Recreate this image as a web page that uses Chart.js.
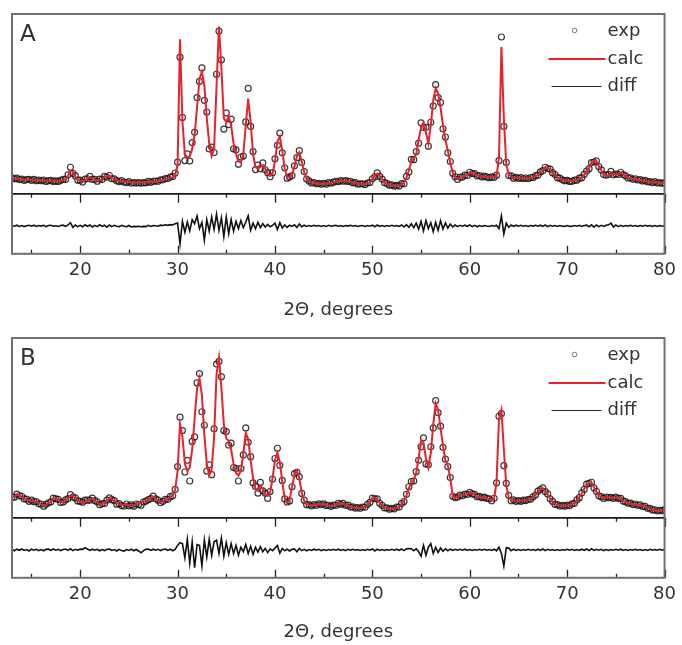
<!DOCTYPE html>
<html>
<head>
<meta charset="utf-8">
<script src="https://cdn.jsdelivr.net/npm/chart.js@4/dist/chart.umd.min.js"></script>
<style>
  body { margin: 0; background: #fff; }
  #wrap { position: relative; width: 682px; height: 645px; }
  canvas { position: absolute; left: 0; }
</style>
</head>
<body>
<div id="wrap">
  <canvas id="panelA" width="682" height="330" style="top:0"></canvas>
  <canvas id="panelB" width="682" height="315" style="top:330px"></canvas>
</div>
<script>
// scan 13.00 .. 80.00 deg, step 0.25 (one line = one degree)
const START = 13;
const STEP = 0.25;

const calcA = [
  8.6, 8.5, 8.3, 8.2,
  8.0, 7.9, 7.8, 7.8,
  7.7, 7.6, 7.6, 7.5,
  7.4, 7.4, 7.3, 7.2,
  7.2, 7.1, 7.1, 7.2,
  7.3, 7.6, 8.3, 10.0,
  13.0, 12.2, 9.6, 8.0,
  7.3, 7.1, 7.6, 8.6,
  9.2, 8.6, 7.7, 7.4,
  7.6, 8.3, 9.3, 10.0,
  9.7, 8.8, 8.0, 7.5,
  7.2, 7.0, 6.8, 6.7,
  6.6, 6.5, 6.5, 6.4,
  6.4, 6.4, 6.5, 6.5,
  6.6, 6.7, 6.8, 7.0,
  7.2, 7.4, 7.6, 7.9,
  8.2, 8.6, 9.2, 10.4,
  16, 86, 40, 22,
  20, 21, 25, 33,
  48, 64, 68, 60,
  42, 28, 21, 25,
  60, 93, 70, 42,
  40, 43, 38, 28,
  22, 18, 17.5, 22,
  38, 53, 40, 22,
  15, 14, 15, 16,
  14, 11, 10, 11.5,
  18, 29, 32, 24,
  14, 9.5, 9, 10.5,
  15, 21, 23, 18,
  12, 8.5, 7, 6.3,
  6.0, 5.8, 5.6, 5.6,
  5.6, 5.7, 5.9, 6.1,
  6.4, 6.7, 7.0, 7.2,
  7.3, 7.2, 7.0, 6.7,
  6.3, 6.0, 5.7, 5.5,
  5.4, 5.5, 5.8, 6.5,
  8.0, 10.0, 11.2, 10.0,
  8.0, 6.5, 5.6, 5.0,
  4.7, 4.5, 4.5, 4.7,
  5.2, 6.2, 9.0, 13.0,
  18, 20, 22, 30,
  37, 39.7, 34, 28,
  38, 52, 58.7, 56,
  48, 38, 30, 24,
  17, 12, 9, 8.4,
  9, 9.5, 10, 10.5,
  11.5, 11.7, 11, 10.5,
  10, 9.7, 9.6, 9.5,
  9.3, 9.2, 9.4, 10,
  20, 81.6, 42, 16,
  11, 9.5, 9, 8.8,
  8.8, 8.7, 8.6, 8.6,
  8.7, 8.9, 9.2, 9.8,
  10.6, 11.8, 13.2, 14.3,
  14.5, 13.5, 12, 10.5,
  9.3, 8.5, 8, 7.6,
  7.3, 7.2, 7.2, 7.4,
  7.8, 8.4, 9.3, 10.6,
  12.3, 14.5, 16.8, 18.4,
  17.8, 15.5, 13, 11,
  10, 10.2, 11, 11.2,
  10.5, 11.2, 11.7, 11,
  9.8, 9, 8.6, 8.3,
  8.2, 8.0, 7.7, 7.4,
  7.2, 6.9, 6.6, 6.5,
  6.6, 6.3, 6.0, 6.0,
  6.1
];

const diffA = [
  0.3, -0.2, 0.4, -0.3,
  0.2, -0.4, 0.1, 0.3,
  -0.2, 0.4, -0.3, 0.2,
  -0.1, 0.3, -0.4, 0.2,
  0.3, -0.2, 0.1, -0.3,
  0.2, 0.4, -0.3, 0.6,
  1.8, -0.8, 0.5, -0.4,
  0.3, -0.5, 0.6, -0.2,
  0.5, -0.6, 0.3, -0.4,
  0.6, -0.3, 0.4, -0.7,
  0.5, -0.4, 0.3, -0.2,
  -0.4, 0.3, -0.2, -0.5,
  0.2, -0.6, -0.3, -0.4,
  -0.2, -0.5, -0.3, -0.4,
  0.3, -0.3, 0.2, 0.1,
  -0.2, 0.4, 0.2, 0.6,
  0.3, 0.7, 0.5, 1.2,
  1.6, -10, 2.5, -3.5,
  2.2, -2.8, 3.5, 1.2,
  5.5, -1.5, 2.0, -8.0,
  3.5, -3.0, 5.0, -2.0,
  6.5, -2.5, 4.5, -6.0,
  5.0, -4.5, 3.5, -3.0,
  2.5, -1.5, 3.0, -1.0,
  2.0, 5.6, -2.5, 1.5,
  -1.5, 2.0, -1.0, 1.2,
  -0.6, 0.8, -0.5, 0.3,
  1.5, -2.0, 1.8, -1.2,
  0.5, -0.8, 0.4, -0.3,
  0.6, -0.9, 1.0, -0.5,
  0.4, -0.3, 0.2, -0.2,
  0.3, -0.2, 0.2, -0.3,
  0.2, -0.3, 0.3, -0.2,
  0.1, 0.3, -0.2, 0.2,
  -0.3, 0.2, -0.1, 0.3,
  -0.2, 0.2, -0.3, 0.1,
  0.2, -0.3, 0.2, -0.2,
  0.4, -0.5, 0.5, -0.3,
  0.2, -0.3, 0.2, -0.2,
  0.3, -0.2, 0.2, -0.3,
  0.5, -0.6, 0.7, -0.8,
  1.2, -1.0, 1.5, -1.8,
  2.5, -2.8, 3.0, -1.5,
  1.8, -3.2, 2.0, -2.5,
  2.8, -1.8, 1.6, -1.2,
  1.0, -0.6, 0.5, -0.4,
  0.3, -0.2, 0.4, -0.3,
  0.5, -0.4, 0.3, -0.5,
  0.2, -0.3, 0.2, -0.1,
  -0.3, 0.2, -0.2, 0.4,
  -1.5, 5.6, -4.5, 1.5,
  -0.8, 0.5, -0.3, 0.4,
  -0.2, 0.3, -0.2, 0.2,
  -0.3, 0.2, -0.1, 0.3,
  -0.2, 0.4, -0.3, 0.5,
  -0.4, 0.3, -0.2, 0.2,
  -0.3, 0.2, -0.2, -0.3,
  0.2, -0.3, -0.2, 0.2,
  -0.2, 0.3, -0.3, 0.2,
  0.4, -0.5, 0.6, -0.7,
  0.5, -0.4, 0.3, -0.3,
  0.4, 0.6, 1.5, -0.6,
  0.5, -0.4, 0.3, -0.3,
  0.2, -0.2, 0.3, -0.2,
  0.2, -0.3, 0.2, -0.2,
  0.3, -0.2, 0.2, -0.3,
  0.2, -0.3, 0.2, -0.2,
  0.1
];

const calcB = [
  11.2, 12.0, 12.8, 12.5,
  11.5, 10.8, 10.2, 9.8,
  9.4, 9.2, 8.8, 8.2,
  7.5, 7.0, 7.2, 8.0,
  9.2, 10.5, 10.8, 10.0,
  9.0, 8.6, 9.5, 11.0,
  12.3, 12.0, 10.8, 9.6,
  8.8, 8.4, 8.6, 9.3,
  10.2, 10.6, 9.8, 8.6,
  7.8, 7.6, 8.4, 9.6,
  10.6, 10.4, 9.4, 8.2,
  7.6, 7.2, 7.3, 7.5,
  7.0, 6.8, 7.0, 7.5,
  8.0, 8.6, 9.2, 9.0,
  9.6, 11.0, 11.7, 10.8,
  9.5, 8.8, 9.0, 9.8,
  10.6, 11.4, 12.8, 15.5,
  26, 52, 45, 30,
  26, 28, 38, 55,
  72, 77.7, 68, 46,
  30, 23.5, 27, 45,
  80, 89, 72, 52,
  44, 43, 38, 30,
  25, 23.5, 26, 36,
  47, 44, 32, 22,
  16, 15, 17.9, 16,
  13, 12.3, 14, 22,
  32, 36.3, 31, 20,
  11, 8.4, 10, 17,
  24, 26.3, 22, 14,
  9.5, 7.8, 7.2, 7.0,
  7.0, 7.2, 7.5, 7.8,
  7.6, 7.2, 6.8, 6.6,
  6.8, 7.2, 7.6, 7.8,
  7.8, 7.4, 6.8, 6.2,
  5.8, 5.6, 5.5, 5.6,
  5.8, 6.2, 7.2, 8.8,
  10.5, 11.2, 10.2, 8.4,
  6.8, 5.8, 5.3, 5.0,
  5.0, 5.2, 5.6, 6.3,
  7.5, 9.5, 12.5, 16.5,
  19.6, 21, 25, 33,
  43, 42, 33, 28,
  36, 52, 63.7, 60,
  50, 40, 32, 29,
  22, 12.3, 11, 11.8,
  12.3, 12.5, 12.8, 13.3,
  14, 13.6, 12.8, 12.0,
  11.6, 11.4, 11.2, 11.0,
  10.4, 9.8, 10.5, 20,
  55, 60, 38, 18,
  11.5, 10, 9.6, 9.5,
  9.4, 9.5, 9.6, 9.8,
  10.0, 10.5, 11.5, 13.0,
  14.5, 16.0, 16.2, 15.0,
  13.0, 10.8, 9.0, 7.8,
  7.2, 6.9, 6.7, 6.7,
  6.8, 7.0, 7.5, 8.4,
  9.8, 11.5, 13.5, 16.0,
  18.2, 19.6, 19.2, 17.0,
  14.5, 12.5, 11.5, 11.2,
  11.4, 11.5, 11.2, 11.0,
  11.2, 11.0, 10.4, 9.6,
  8.8, 8.4, 8.0, 7.6,
  7.4, 7.2, 7.0, 6.6,
  6.2, 5.6, 5.0, 4.6,
  4.3, 4.0, 3.9, 4.2,
  4.4
];

const diffB = [
  0.3, -0.5, 0.4, -0.2,
  0.5, -0.3, 0.2, -0.6,
  0.4, -0.2, 0.3, -0.4,
  0.2, -0.5, 0.3, 0.4,
  -0.3, 0.5, -0.2, 0.3,
  -0.4, 0.2, 0.5, -0.3,
  0.6, -0.4, 0.3, -0.2,
  0.4, 0.3, 1.2, 0.5,
  -0.3, 0.4, -0.2, 0.3,
  -0.5, 0.2, -0.4, 0.3,
  0.5, -0.3, 0.2, -0.6,
  0.3, -0.4, -0.7, 0.2,
  -0.3, 0.4, -0.5, 0.2,
  -0.6, -1.6, -0.4, 0.3,
  0.5, -0.3, 0.4, -0.2,
  0.3, -0.4, 0.2, 0.5,
  -0.3, 0.4, -0.5, 0.3,
  2.5, 4.0, 3.5, -4.5,
  6.0, -7.5, 4.5, -10.0,
  3.0, 2.5, -9.0, 5.5,
  -4.0, 6.0, -3.0, 4.5,
  5.5, -2.0, 6.5, -3.5,
  4.0, -2.5, 3.5, -2.0,
  2.5, -3.0, 1.5, -1.0,
  3.0, -2.0, 2.0, -2.5,
  1.5, -1.2, 1.8, -1.0,
  0.8, -1.5, 0.6, -0.4,
  1.0, 2.4, -1.8, 0.8,
  -0.5, 0.4, -0.6, 0.3,
  0.6, -1.0, 0.8, -0.4,
  0.3, -0.5, 0.2, -0.3,
  0.4, -0.2, 0.3, -0.4,
  0.2, -0.3, 0.2, -0.2,
  0.3, -0.2, 0.4, -0.3,
  0.2, -0.4, 0.3, -0.2,
  0.3, -0.2, 0.2, -0.3,
  0.2, -0.3, 0.3, -0.2,
  0.5, -0.6, 0.4, -0.3,
  0.2, -0.3, 0.2, -0.2,
  0.3, -0.2, 0.4, -0.3,
  0.5, -0.4, 0.6, 0.8,
  0.6, -0.5, 0.7, -1.0,
  -3.5, 2.5, -3.0, 1.5,
  3.5, -2.0, 1.5, -1.5,
  1.0, -0.8, 0.6, -0.5,
  0.4, -0.3, 0.3, -0.2,
  0.3, -0.2, 0.4, -0.3,
  0.2, -0.3, 0.2, -0.2,
  0.3, -0.2, 0.3, -0.2,
  0.2, -0.3, 0.4, -0.5,
  1.5, -2.0, -9.0, 1.2,
  1.0, -0.5, 0.4, -0.3,
  0.2, -0.3, 0.2, -0.2,
  0.3, -0.2, 0.2, -0.3,
  0.4, -0.3, 0.5, -0.4,
  0.3, -0.2, 0.2, -0.3,
  0.2, -0.3, 0.2, -0.2,
  0.3, -0.2, 0.3, -0.3,
  0.2, -0.3, 0.4, -0.2,
  0.5, -0.4, 0.6, -0.3,
  0.3, -0.2, 0.3, -0.4,
  0.2, -0.3, 0.2, -0.2,
  0.3, -0.2, 0.4, -0.3,
  0.2, -0.3, 0.2, -0.2,
  0.3, -0.2, 0.2, -0.3,
  0.2, -0.3, 0.3, -0.2,
  0.2, -0.2, 0.3, -0.2,
  0.2
];

const xTicks = [20, 30, 40, 50, 60, 70, 80];
const xMinorTicks = [15, 25, 35, 45, 55, 65, 75];
const legendLabels = ['exp', 'calc', 'diff'];
const xTitle = '2\u0398, degrees';

const twoTheta = calcA.map((_, i) => START + i * STEP);

const FONT = 'DejaVu Sans';
const TEXT = '#333';
const RED = '#e8222b';

// frame, divider, inward ticks, legend and panel letter
const decorations = {
  id: 'decorations',
  afterDraw(chart, args, opts) {
    const ctx = chart.ctx;
    const area = chart.chartArea;
    const x = chart.scales.x;
    const split = chart.scales.y.bottom;
    ctx.save();

    // ticks on the difference strip
    ctx.strokeStyle = '#222';
    ctx.lineWidth = 1.3;
    xTicks.concat(xMinorTicks).forEach(v => {
      const px = Math.round(x.getPixelForValue(v)) + 0.5;
      const major = v % 10 === 0;
      ctx.beginPath();
      ctx.moveTo(px, split);
      ctx.lineTo(px, split + (major ? 9 : 4));
      ctx.moveTo(px, area.bottom);
      ctx.lineTo(px, area.bottom - (major ? 8 : 4));
      ctx.stroke();
    });

    ctx.strokeStyle = '#1a1a1a';
    ctx.lineWidth = 1.6;
    ctx.beginPath();
    ctx.moveTo(area.left, split);
    ctx.lineTo(area.right, split);
    ctx.stroke();

    ctx.strokeStyle = '#707070';
    ctx.lineWidth = 2;
    ctx.strokeRect(area.left, area.top, area.right - area.left, area.bottom - area.top);

    // panel letter
    ctx.fillStyle = TEXT;
    ctx.font = '23px "' + FONT + '"';
    ctx.textBaseline = 'middle';
    ctx.textAlign = 'left';
    ctx.fillText(opts.letter, area.left + 8, area.top + 21);

    // legend
    const tx = area.right - 57;
    const rows = [area.top + 17.5, area.top + 45, area.top + 72.5];
    ctx.font = '18px "' + FONT + '"';
    legendLabels.forEach((label, i) => ctx.fillText(label, tx, rows[i]));

    ctx.strokeStyle = 'rgba(70,70,70,0.8)';
    ctx.lineWidth = 0.9;
    ctx.beginPath();
    ctx.arc(tx - 33, rows[0] - 1, 2.3, 0, Math.PI * 2);
    ctx.stroke();

    ctx.strokeStyle = RED;
    ctx.lineWidth = 2.2;
    ctx.beginPath();
    ctx.moveTo(tx - 59, rows[1]);
    ctx.lineTo(tx - 2, rows[1]);
    ctx.stroke();

    ctx.strokeStyle = '#222';
    ctx.lineWidth = 1;
    ctx.beginPath();
    ctx.moveTo(tx - 56, rows[2]);
    ctx.lineTo(tx - 6, rows[2]);
    ctx.stroke();

    ctx.restore();
  }
};

function makePanel(id, letter, calc, diff, pad) {
  const calcPts = twoTheta.map((t, i) => ({ x: t, y: calc[i] }));
  const expPts = twoTheta.map((t, i) => ({ x: t, y: calc[i] + diff[i] }));
  const diffPts = twoTheta.map((t, i) => ({ x: t, y: diff[i] }));

  const hidden = {
    ticks: { display: false },
    grid: { display: false, drawTicks: false },
    border: { display: false }
  };

  return new Chart(document.getElementById(id).getContext('2d'), {
    type: 'line',
    data: {
      datasets: [
        {
          label: 'calc',
          data: calcPts,
          yAxisID: 'y',
          borderColor: RED,
          borderWidth: 2,
          pointRadius: 0,
          order: 0
        },
        {
          label: 'exp',
          data: expPts,
          yAxisID: 'y',
          showLine: false,
          pointRadius: 3,
          pointBorderWidth: 1.2,
          pointBorderColor: 'rgba(25,25,25,0.85)',
          pointBackgroundColor: 'rgba(255,255,255,0)',
          order: 1
        },
        {
          label: 'diff',
          data: diffPts,
          yAxisID: 'yDiff',
          borderColor: '#111',
          borderWidth: 1.6,
          pointRadius: 0,
          order: 2
        }
      ]
    },
    options: {
      responsive: false,
      animation: false,
      events: [],
      layout: { padding: { left: 12, right: 14, top: pad.top, bottom: pad.bottom } },
      plugins: {
        legend: { display: false },
        tooltip: { enabled: false },
        decorations: { letter: letter }
      },
      scales: {
        x: {
          type: 'linear',
          min: 13,
          max: 80,
          grid: { display: false, drawTicks: false },
          border: { display: false },
          afterBuildTicks: scale => {
            scale.ticks = xTicks.map(v => ({ value: v }));
          },
          ticks: {
            padding: 6,
            color: TEXT,
            maxRotation: 0,
            autoSkip: false,
            font: { family: FONT, size: 18 }
          },
          title: {
            display: true,
            text: xTitle,
            color: TEXT,
            font: { family: FONT, size: 18 },
            padding: { top: pad.title, bottom: pad.titleBottom }
          }
        },
        y: Object.assign({ min: 0, max: 100, stack: 'pattern', stackWeight: 3, weight: 2 }, hidden),
        yDiff: Object.assign({ min: -15.6, max: 17.9, stack: 'pattern', stackWeight: 1, weight: 1 }, hidden)
      }
    },
    plugins: [decorations]
  });
}

makePanel('panelA', 'A', calcA, diffA, { top: 14, bottom: 8, title: 12, titleBottom: 1 });
makePanel('panelB', 'B', calcB, diffB, { top: 8, bottom: 2, title: 10, titleBottom: 0 });
</script>
</body>
</html>
